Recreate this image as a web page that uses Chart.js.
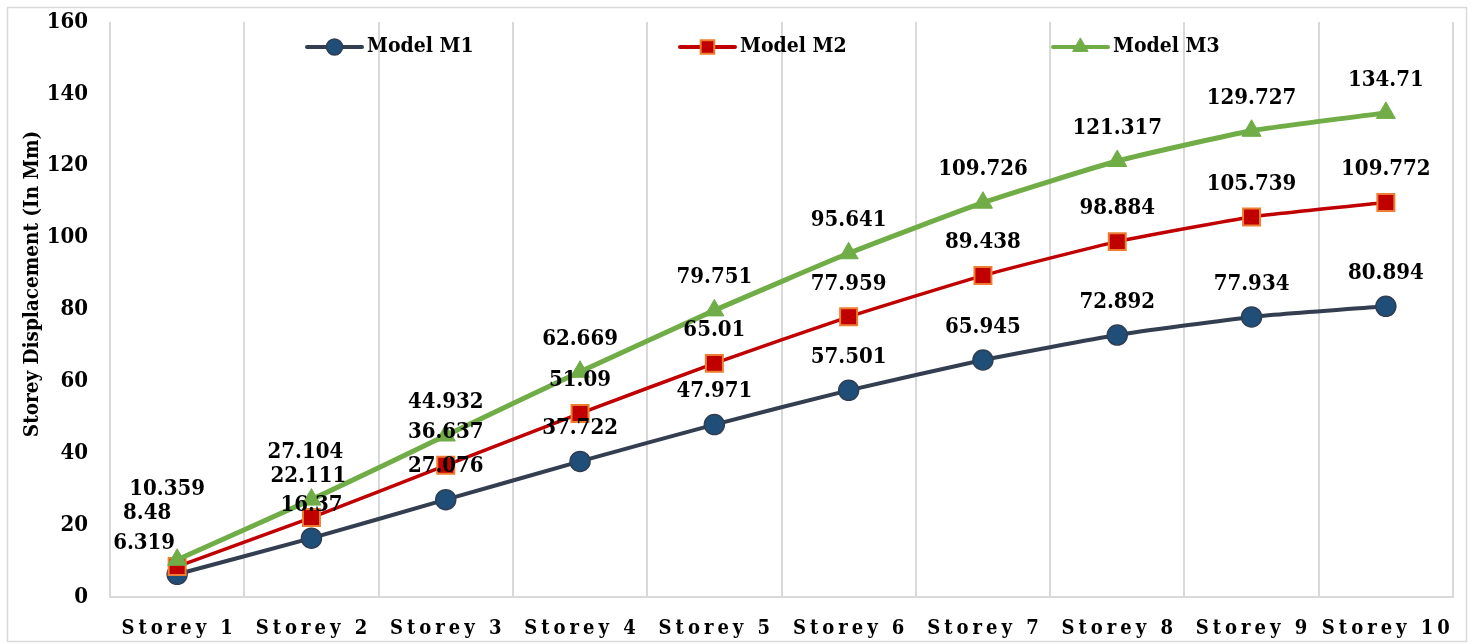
<!DOCTYPE html>
<html><head><meta charset="utf-8">
<script src="https://cdn.jsdelivr.net/npm/chart.js@4.4.0/dist/chart.umd.min.js"></script>
<style>html,body{margin:0;padding:0;background:#fff;} #wrap{width:1473px;height:643px;position:relative}</style>
</head><body><div id="wrap"><canvas id="c" width="1473" height="643"></canvas></div>
<script>
// ---- data ----
const categories = ['Storey 1','Storey 2','Storey 3','Storey 4','Storey 5','Storey 6','Storey 7','Storey 8','Storey 9','Storey 10'];
const seriesNames = ['Model M1','Model M2','Model M3'];
const modelM1 = [6.319, 16.37, 27.076, 37.722, 47.971, 57.501, 65.945, 72.892, 77.934, 80.894];
const modelM2 = [8.48, 22.111, 36.637, 51.09, 65.01, 77.959, 89.438, 98.884, 105.739, 109.772];
const modelM3 = [10.359, 27.104, 44.932, 62.669, 79.751, 95.641, 109.726, 121.317, 129.727, 134.71];
const yMin = 0, yMax = 160, yStep = 20;
const yTitle = 'Storey Displacement (In Mm)';

// ---- styles ----
const FONT = '"DejaVu Serif Condensed", "DejaVu Serif", "Liberation Serif", serif';
const styles = [
  {line:'#333F50', width:4, fill:'#1F4E79', border:'#2F3E52', shape:'circle', r:10, bw:1.5},
  {line:'#C00000', width:3.5, fill:'#C00000', border:'#ED7D31', shape:'rect', r:12, bw:2},
  {line:'#70AD47', width:5, fill:'#70AD47', border:'#70AD47', shape:'triangle', r:11, bw:1}
];
// label offsets: [dx, distance above point] for crowded points
const labelAdjust = {'0-0':[-33,31],'1-0':[-30,53],'2-0':[-10,70],'1-1':[-3,41],'2-1':[-6,47]};
const defaultLabelOffset = 33;

function drawMarker(ctx, shape, x, y, r, fill, border, bw){
  ctx.save();
  ctx.fillStyle = fill; ctx.strokeStyle = border; ctx.lineWidth = bw;
  ctx.beginPath();
  if (shape === 'circle') { ctx.arc(x, y, r, 0, Math.PI*2); }
  else if (shape === 'rect') { const s = r*Math.SQRT1_2; ctx.rect(x-s, y-s, 2*s, 2*s); }
  else { ctx.moveTo(x, y-r); ctx.lineTo(x+r*0.866, y+r*0.5); ctx.lineTo(x-r*0.866, y+r*0.5); ctx.closePath(); }
  ctx.fill(); ctx.stroke();
  ctx.restore();
}

const decor = {
  id: 'decor',
  afterDraw(chart){
    const ctx = chart.ctx;
    // outer border
    ctx.save();
    ctx.strokeStyle = '#D9D9D9'; ctx.lineWidth = 1.5;
    ctx.strokeRect(7.5, 7.5, 1459, 634);
    ctx.restore();
    // data labels
    ctx.save();
    ctx.fillStyle = '#000';
    ctx.font = 'bold 22px ' + FONT;
    ctx.textAlign = 'center'; ctx.textBaseline = 'middle';
    chart.data.datasets.forEach((ds, di) => {
      const meta = chart.getDatasetMeta(di);
      meta.data.forEach((pt, i) => {
        const adj = labelAdjust[di+'-'+i] || [0, defaultLabelOffset];
        ctx.fillText(String(ds.data[i]), pt.x + adj[0], pt.y - adj[1]);
      });
    });
    ctx.restore();
    // x category labels (letter-spaced)
    const xs = chart.scales.x;
    ctx.save();
    ctx.fillStyle = '#000';
    ctx.font = 'bold 20px ' + FONT;
    ctx.letterSpacing = '4px';
    ctx.textAlign = 'center'; ctx.textBaseline = 'middle';
    categories.forEach((c, i) => {
      ctx.fillText(c, xs.getPixelForValue(i) + 2, 629);
    });
    ctx.restore();
    // y title
    ctx.save();
    ctx.fillStyle = '#000';
    ctx.font = 'bold 20.5px ' + FONT;
    ctx.translate(33, 284);
    ctx.rotate(-Math.PI/2);
    ctx.textAlign = 'center'; ctx.textBaseline = 'middle';
    ctx.fillText(yTitle, 0, 0);
    ctx.restore();
    // legend
    const legendX = [307, 680, 1053];
    const ly = 47;
    ctx.save();
    seriesNames.forEach((name, i) => {
      const st = styles[i];
      const x0 = legendX[i];
      ctx.strokeStyle = st.line; ctx.lineWidth = 4; ctx.lineCap = 'round';
      ctx.beginPath(); ctx.moveTo(x0, ly); ctx.lineTo(x0+55, ly); ctx.stroke();
      drawMarker(ctx, st.shape, x0+27.5, ly, st.r*0.8, st.fill, st.border, st.bw);
      ctx.fillStyle = '#000';
      ctx.font = 'bold 21px ' + FONT;
      ctx.textAlign = 'left'; ctx.textBaseline = 'middle';
      ctx.fillText(name, x0+60, ly);
    });
    ctx.restore();
  }
};

const seriesData = [modelM1, modelM2, modelM3];
const datasets = seriesData.map((d, i) => ({
  label: seriesNames[i],
  data: d,
  borderColor: styles[i].line,
  borderWidth: styles[i].width,
  backgroundColor: styles[i].fill,
  pointBackgroundColor: styles[i].fill,
  pointBorderColor: styles[i].border,
  pointBorderWidth: styles[i].bw,
  pointStyle: styles[i].shape,
  pointRadius: styles[i].r,
  pointHoverRadius: styles[i].r,
  tension: 0.15,
  order: 2 - i,
  fill: false
}));

new Chart(document.getElementById('c'), {
  type: 'line',
  data: { labels: categories, datasets },
  options: {
    responsive: false,
    animation: false,
    devicePixelRatio: 1,
    layout: { padding: { left: 0, top: 22, right: 20, bottom: 0 } },
    plugins: { legend: { display: false }, tooltip: { enabled: false } },
    scales: {
      x: {
        offset: true,
        grid: { offset: true, color: '#D9D9D9', lineWidth: 2, drawTicks: false },
        border: { color: '#D9D9D9', width: 2 },
        ticks: { display: false },
        afterFit(s){ s.height = 46; s.paddingLeft = 0; s.paddingRight = 0; }
      },
      y: {
        min: yMin, max: yMax,
        grid: { display: false, drawTicks: false },
        border: { display: false },
        ticks: { stepSize: yStep, padding: 22, color: '#000', font: { family: FONT, weight: 'bold', size: 22 } },
        afterFit(s){ s.width = 110; s.paddingTop = 0; s.paddingBottom = 0; }
      }
    }
  },
  plugins: [decor]
});
</script>
</body></html>
